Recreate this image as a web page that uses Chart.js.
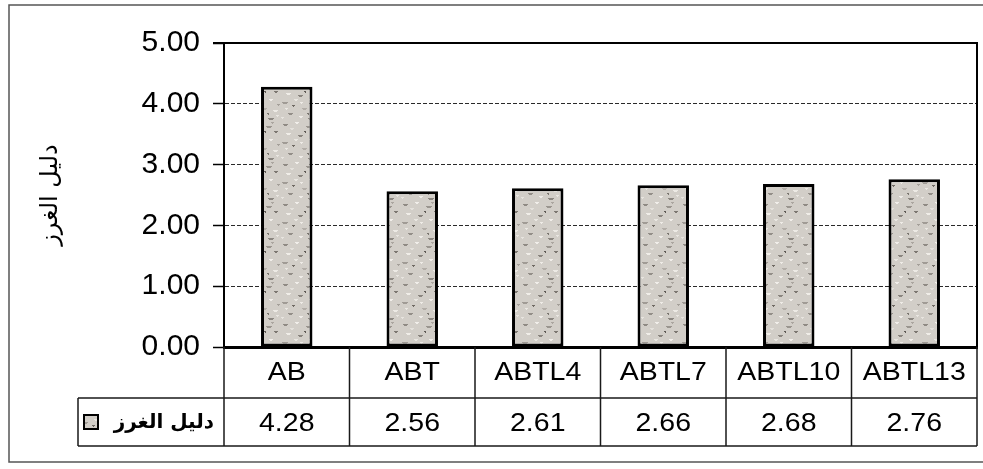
<!DOCTYPE html>
<html>
<head>
<meta charset="utf-8">
<script src="https://cdn.jsdelivr.net/npm/chart.js@4.4.1/dist/chart.umd.min.js"></script>
<style>
  html, body { margin: 0; padding: 0; background: #fff; }
  #wrap { width: 983px; height: 469px; position: relative; }
</style>
</head>
<body>
<div id="wrap"><canvas id="c" width="983" height="469"></canvas></div>
<script>
// Categories, series and axis ticks
const categories = ['AB', 'ABT', 'ABTL4', 'ABTL7', 'ABTL10', 'ABTL13'];
const seriesName = 'دليل الغرز';
const values = [4.28, 2.56, 2.61, 2.66, 2.68, 2.76];
const yTickValues = [0, 1, 2, 3, 4, 5];

const LATIN = '"Liberation Sans", Arial, sans-serif';
const ARABIC = '"DejaVu Sans", sans-serif';

// Speckled grey fill for the bars (fixed stroke list)
function makeSpeckle() {
  const c = document.createElement('canvas');
  c.width = 40; c.height = 40;
  const g = c.getContext('2d');
  g.fillStyle = '#d2cec8';
  g.fillRect(0, 0, 40, 40);
  const strokes = [
    [3, 4, 5, '#8f8a84'], [15, 2, 4, '#f1eeea'], [26, 6, 6, '#9a958f'], [34, 11, 4, '#7d7872'],
    [6, 13, 5, '#f0ede8'], [18, 15, 5, '#8a857f'], [29, 19, 4, '#f2efeb'], [2, 22, 6, '#a09b95'],
    [12, 25, 3, '#6f6a64'], [22, 28, 5, '#b3aea8'], [33, 30, 5, '#edeae5'], [8, 33, 5, '#938e88'],
    [19, 36, 4, '#f0ede9'], [28, 38, 6, '#8c8781'], [37, 24, 3, '#a5a09a'], [10, 8, 4, '#e4e1dc'],
    [24, 11, 2, '#5f5a55'], [14, 19, 4, '#e9e6e1'], [31, 2, 3, '#aaa59f'], [1, 37, 3, '#e7e4df'],
    [20, 22, 3, '#efece7'], [36, 35, 3, '#e9e6e1'], [5, 28, 3, '#ebe8e3'], [27, 33, 2, '#7a756f']
  ];
  strokes.forEach(([x, y, w, col]) => {
    g.fillStyle = col;
    g.fillRect(x, y, w, 1);
    g.fillRect(x + 1, y + 1, Math.max(1, w - 2), 1);
  });
  return g.createPattern(c, 'repeat');
}

const tablePlugin = {
  id: 'dataTable',
  afterDraw(chart) {
    const ctx = chart.ctx;
    const area = chart.chartArea;
    const xs = chart.scales.x;
    const half = (xs.getPixelForValue(1) - xs.getPixelForValue(0)) / 2;
    const headTop = area.bottom;
    const headBottom = 398;
    const rowBottom = 446;
    const tableLeft = 78;

    ctx.save();
    // plot frame: top and right edges
    ctx.strokeStyle = '#000';
    ctx.lineWidth = 2;
    ctx.beginPath();
    ctx.moveTo(area.left - 11, area.top);
    ctx.lineTo(area.right, area.top);
    ctx.lineTo(area.right, area.bottom);
    ctx.stroke();

    // table grid
    ctx.strokeStyle = '#1a1a1a';
    ctx.lineWidth = 1.5;
    ctx.beginPath();
    ctx.moveTo(tableLeft, headBottom); ctx.lineTo(area.right, headBottom);
    ctx.moveTo(tableLeft, rowBottom); ctx.lineTo(area.right, rowBottom);
    ctx.moveTo(tableLeft, headBottom); ctx.lineTo(tableLeft, rowBottom);
    for (let i = 0; i <= categories.length; i++) {
      const x = i < categories.length ? xs.getPixelForValue(i) - half : xs.getPixelForValue(categories.length - 1) + half;
      ctx.moveTo(x, headTop); ctx.lineTo(x, rowBottom);
    }
    ctx.stroke();

    // text cells
    ctx.fillStyle = '#000';
    ctx.textAlign = 'center';
    ctx.textBaseline = 'middle';
    ctx.font = '25px ' + LATIN;
    const drawWide = (t, x, y) => {
      ctx.save();
      ctx.translate(x, y);
      ctx.scale(1.14, 1);
      ctx.fillText(t, 0, 0);
      ctx.restore();
    };
    categories.forEach((c, i) => {
      const x = xs.getPixelForValue(i);
      drawWide(c, x, (headTop + headBottom) / 2 + 1);
      drawWide(values[i].toFixed(2), x, (headBottom + rowBottom) / 2 + 2);
    });

    // legend cell: key square and series name
    const rowMid = (headBottom + rowBottom) / 2;
    const pat = chart.data.datasets[0].backgroundColor;
    ctx.fillStyle = pat;
    ctx.fillRect(84, rowMid - 7, 14, 14);
    ctx.strokeStyle = '#000';
    ctx.lineWidth = 2;
    ctx.strokeRect(84, rowMid - 7, 14, 14);
    ctx.fillStyle = '#000';
    ctx.font = 'bold 20px ' + ARABIC;
    ctx.textAlign = 'right';
    ctx.fillText(seriesName, 214, rowMid + 1);

    // outer chart frame
    ctx.strokeStyle = '#555';
    ctx.lineWidth = 1.5;
    ctx.strokeRect(9, 5, 990, 457);
    ctx.restore();
  }
};

const speckle = makeSpeckle();

new Chart(document.getElementById('c'), {
  type: 'bar',
  data: {
    labels: categories,
    datasets: [{
      label: seriesName,
      data: values,
      backgroundColor: speckle,
      borderColor: '#000',
      borderWidth: 3,
      borderSkipped: false,
      barPercentage: 0.41,
      categoryPercentage: 1.0
    }]
  },
  options: {
    responsive: false,
    animation: false,
    devicePixelRatio: 1,
    layout: { padding: { left: 0, right: 6, top: 43, bottom: 122 } },
    plugins: { legend: { display: false }, tooltip: { enabled: false } },
    scales: {
      x: {
        ticks: { display: false },
        grid: { display: false },
        border: { display: true, color: '#000', width: 3 },
        afterFit(s) { s.height = 0; }
      },
      y: {
        min: 0,
        max: 5,
        afterBuildTicks(s) { s.ticks = yTickValues.map(v => ({ value: v })); },
        ticks: {
          font: { family: LATIN, size: 30 },
          color: '#000',
          padding: 13,
          callback: v => Number(v).toFixed(2)
        },
        grid: {
          color: '#2a2a2a',
          lineWidth: 1,
          tickLength: 11,
          tickColor: '#000',
          tickWidth: 1.5,
          tickBorderDash: []
        },
        border: { display: true, color: '#000', width: 2, dash: [4, 2] },
        title: {
          display: true,
          text: seriesName,
          font: { family: ARABIC, size: 24 },
          color: '#000',
          padding: { top: 36, bottom: 0 }
        },
        afterFit(s) { s.width = 224; }
      }
    }
  },
  plugins: [tablePlugin]
});
</script>
</body>
</html>
